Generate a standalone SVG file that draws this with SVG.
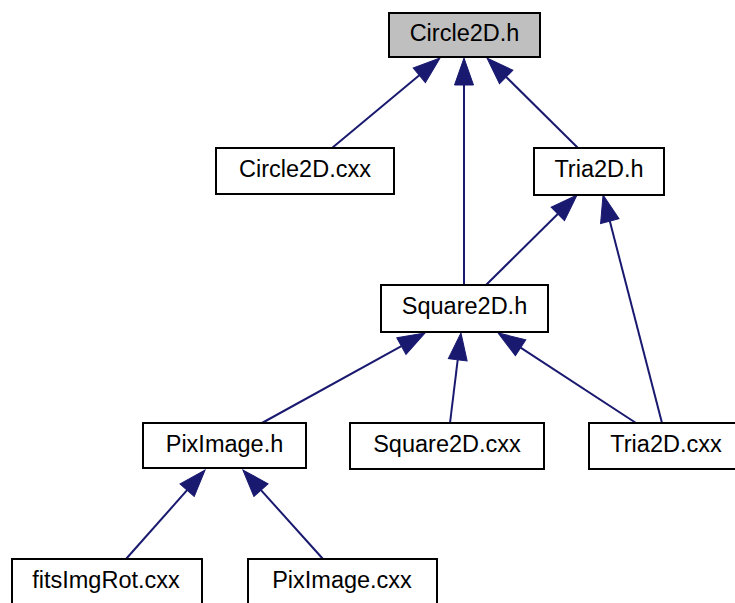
<svg xmlns="http://www.w3.org/2000/svg" width="735" height="603" viewBox="0 0 735 603">
  <style>
    .node rect { fill: #ffffff; stroke: #000000; stroke-width: 2; }
    .node.root rect { fill: #bfbfbf; }
    .node text { font-family: "Liberation Sans", Arial, Helvetica, sans-serif; font-size: 23.5px; fill: #000000; text-anchor: middle; }
    .edge { fill: none; stroke: #191970; stroke-width: 2; marker-end: url(#arrow); }
  </style>
  <defs>
    <marker id="arrow" markerUnits="userSpaceOnUse" markerWidth="28" markerHeight="20" refX="0" refY="10" orient="auto" overflow="visible">
      <path d="M0,0.5 L27,10 L0,19.5 Z" fill="#191970" stroke="#191970" stroke-width="1"/>
    </marker>
  </defs>
  <rect width="735" height="603" fill="#ffffff"/>

  <g id="connectors">
    <path class="edge" d="M332,148 L419.3,75.3"/>
    <path class="edge" d="M464,285 L464,85"/>
    <path class="edge" d="M578,148 L506.2,77"/>
    <path class="edge" d="M486,285 L557.8,214"/>
    <path class="edge" d="M662,423 L609.8,221.1"/>
    <path class="edge" d="M262,423 L401.4,346.1"/>
    <path class="edge" d="M450,423 L457.7,359.8"/>
    <path class="edge" d="M636,423 L520.6,347.7"/>
    <path class="edge" d="M126,559 L187.1,490.2"/>
    <path class="edge" d="M323,559 L261,490.1"/>
  </g>

  <g id="circle2d_h" class="node root">
    <rect x="389" y="13" width="151" height="44"/>
    <text x="464.5" y="41">Circle2D.h</text>
  </g>
  <g id="circle2d_cxx" class="node">
    <rect x="216" y="148" width="178" height="46"/>
    <text x="305" y="176.5">Circle2D.cxx</text>
  </g>
  <g id="tria2d_h" class="node">
    <rect x="534" y="148" width="130" height="47"/>
    <text x="599" y="176.5">Tria2D.h</text>
  </g>
  <g id="square2d_h" class="node">
    <rect x="381" y="285" width="167" height="47"/>
    <text x="464.5" y="313.5">Square2D.h</text>
  </g>
  <g id="piximage_h" class="node">
    <rect x="143" y="423" width="163" height="45"/>
    <text x="224.5" y="451.5">PixImage.h</text>
  </g>
  <g id="square2d_cxx" class="node">
    <rect x="350" y="423" width="194" height="46"/>
    <text x="447" y="451.5">Square2D.cxx</text>
  </g>
  <g id="tria2d_cxx" class="node">
    <rect x="589" y="423" width="155" height="46"/>
    <text x="666" y="451.5">Tria2D.cxx</text>
  </g>
  <g id="fitsimgrot_cxx" class="node">
    <rect x="12" y="559" width="190" height="46"/>
    <text x="106" y="588">fitsImgRot.cxx</text>
  </g>
  <g id="piximage_cxx" class="node">
    <rect x="248" y="559" width="189" height="46"/>
    <text x="342" y="588">PixImage.cxx</text>
  </g>
</svg>
